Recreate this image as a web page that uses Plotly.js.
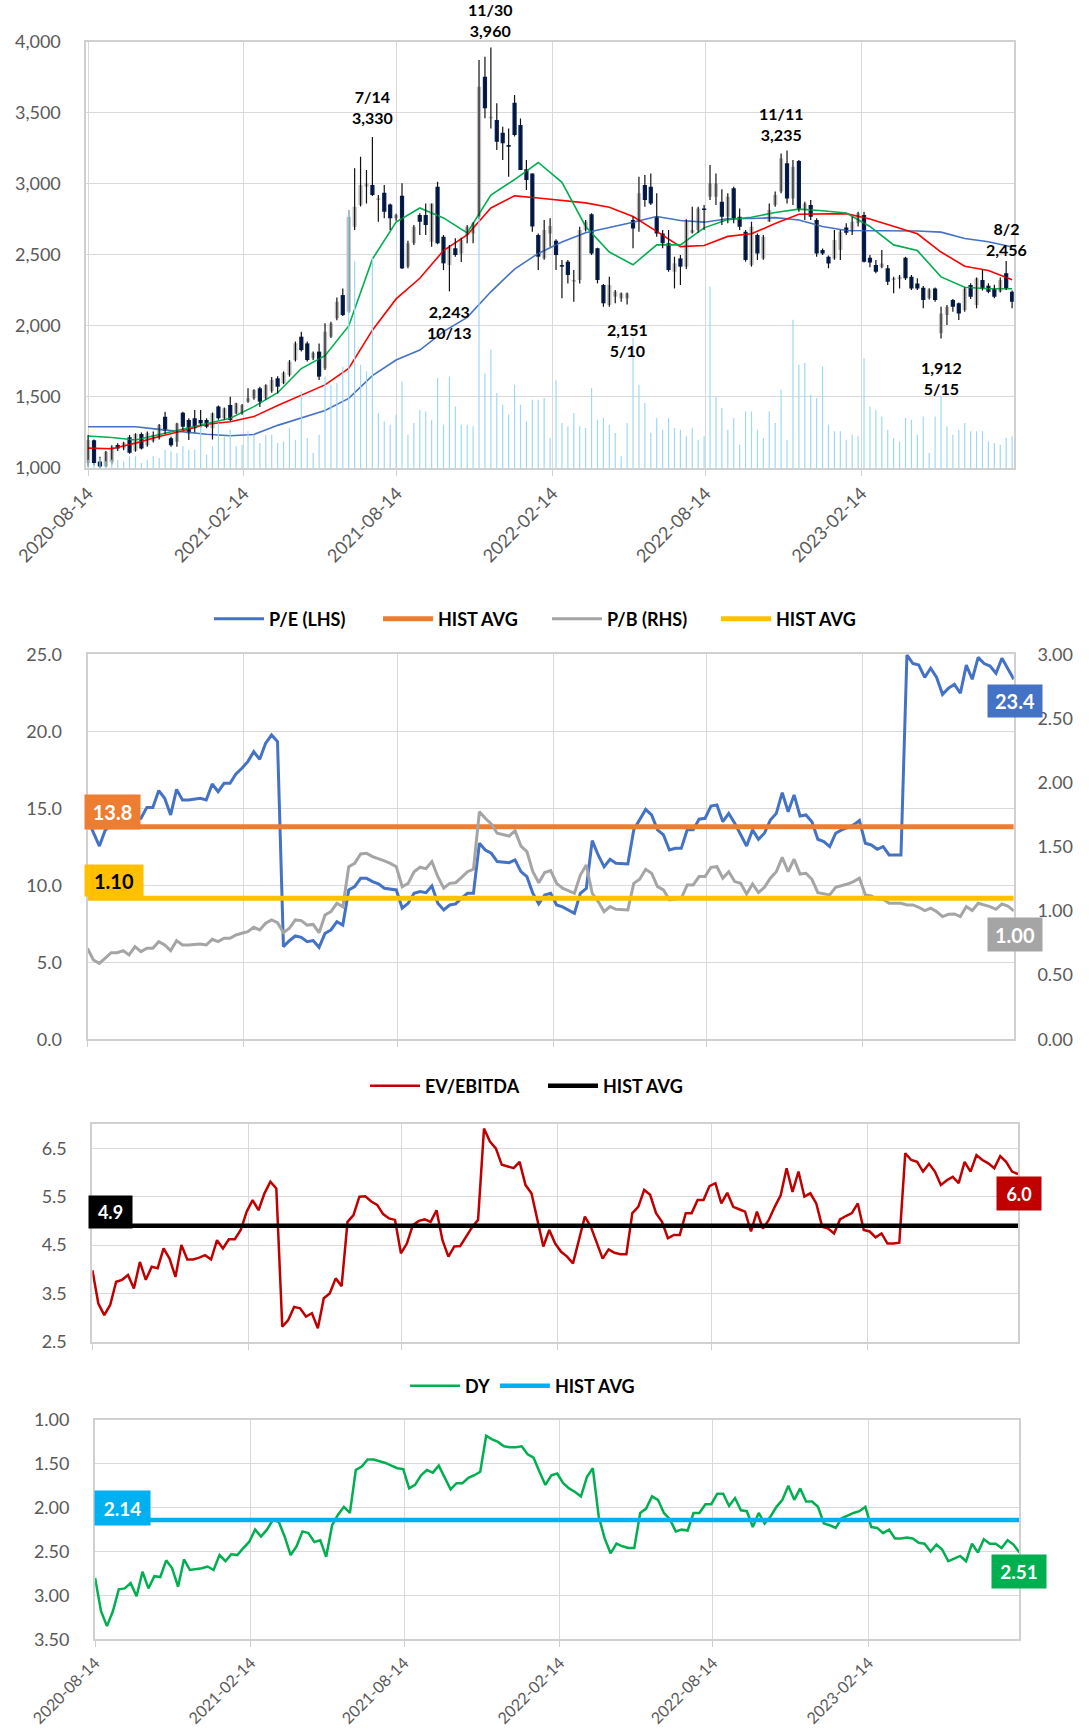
<!DOCTYPE html>
<html>
<head>
<meta charset="utf-8">
<script src="https://cdn.plot.ly/plotly-3.0.1.min.js"></script>
<style>
  html, body { margin: 0; padding: 0; background: #fff; }
  #chart { width: 1089px; height: 1736px; }
</style>
</head>
<body>
<div id="chart"></div>
<script>
// weekly bars, first week 2020-08-14
var dates = [];
var start = Date.UTC(2020, 7, 14);
for (var i = 0; i < 157; i++) {
  dates.push(new Date(start + i * 7 * 86400000).toISOString().slice(0, 10));
}

var open = [1035,1195,1045,1010,1040,1162,1138,1216,1122,1239,
  1160,1190,1209,1360,1209,1185,1389,1338,1350,1338,
  1338,1279,1432,1350,1443,1385,1385,1467,1490,1561,
  1490,1540,1631,1596,1654,1760,1924,1877,1772,1819,
  1701,1924,2053,2217,2100,2698,2851,2980,2991,2886,
  2937,2855,2757,2916,2417,2581,2780,2780,2593,2980,
  2628,2428,2546,2510,2640,2651,2768,3754,3461,3449,
  3360,3273,3571,3414,3102,3073,2640,2475,2651,2600,
  2428,2452,2311,2323,2675,2785,2546,2288,2147,2206,
  2194,2194,2745,2745,2991,2980,2768,2651,2581,2381,
  2475,2417,2656,2675,2827,2909,2909,2874,2768,2968,
  2768,2663,2428,2640,2475,2733,2851,2945,3144,2897,
  3160,2815,2851,2745,2534,2487,2475,2534,2693,2663,
  2722,2780,2480,2428,2412,2405,2323,2328,2480,2346,
  2299,2269,2194,2264,1948,2077,2182,2160,2112,2288,
  2147,2323,2283,2264,2241,2370,2241];
var high = [1232,1200,1080,1120,1160,1175,1185,1232,1245,1250,
  1256,1256,1310,1395,1220,1318,1396,1350,1408,1408,
  1350,1390,1440,1425,1502,1460,1450,1561,1555,1572,
  1590,1640,1645,1680,1760,1890,1959,1890,1820,1877,
  2018,2030,2200,2264,2815,3109,3191,3097,3330,2921,
  2991,2862,2790,3003,2600,2710,2792,2862,2862,3015,
  2640,2570,2616,2620,2710,2730,3871,3894,3960,3566,
  3402,3390,3625,3460,3167,3073,2650,2745,2757,2610,
  2464,2464,2393,2698,2745,2792,2550,2295,2346,2253,
  2235,2235,2768,3050,3062,3073,2933,2675,2675,2487,
  2499,2750,2839,2839,2851,3132,3073,2961,2933,2980,
  2827,2675,2733,2651,2640,2862,2945,3214,3235,3167,
  3167,2874,2886,2757,2545,2495,2675,2675,2722,2768,
  2804,2804,2499,2464,2534,2428,2346,2358,2487,2358,
  2335,2280,2265,2270,2135,2147,2190,2165,2270,2300,
  2340,2393,2300,2290,2340,2456,2250];
var low = [1010,1020,1000,1005,1025,1120,1125,1100,1115,1130,
  1150,1180,1200,1240,1150,1150,1265,1197,1250,1280,
  1280,1200,1340,1340,1330,1380,1375,1460,1480,1430,
  1480,1530,1525,1590,1643,1750,1819,1750,1760,1619,
  1690,1915,2040,2070,2090,2675,2840,2862,2915,2733,
  2757,2675,2740,2400,2405,2570,2640,2640,2557,2575,
  2393,2243,2487,2450,2581,2581,2750,3461,3390,3238,
  3167,3050,3332,3097,2956,2663,2393,2465,2557,2393,
  2194,2299,2170,2299,2665,2499,2299,2135,2135,2159,
  2170,2151,2546,2663,2839,2851,2628,2546,2381,2264,
  2288,2400,2650,2656,2675,2886,2851,2710,2722,2722,
  2675,2452,2417,2464,2465,2733,2839,2933,2862,2851,
  2804,2745,2745,2487,2499,2405,2465,2464,2640,2640,
  2700,2447,2412,2370,2405,2288,2229,2264,2323,2253,
  2253,2124,2185,2170,1912,2006,2100,2041,2100,2190,
  2124,2250,2230,2195,2235,2253,2124];
var close = [1197,1035,1010,1115,1150,1138,1178,1108,1239,1138,
  1244,1232,1303,1260,1160,1314,1291,1244,1279,1314,
  1291,1385,1350,1420,1338,1455,1443,1490,1549,1467,
  1584,1620,1572,1671,1748,1877,1830,1760,1811,1643,
  1959,2018,2170,2076,2768,2839,2991,3005,2921,2897,
  2804,2757,2780,2405,2581,2698,2733,2710,2862,2581,
  2440,2557,2499,2604,2698,2722,3683,3531,3472,3296,
  3285,3261,3343,3097,3027,2700,2487,2675,2703,2499,
  2417,2358,2323,2675,2733,2510,2323,2159,2288,2241,
  2229,2229,2686,2933,2886,2862,2651,2581,2393,2440,
  2417,2745,2675,2827,2815,3003,3003,2768,2909,2757,
  2698,2464,2698,2510,2628,2815,2921,3179,2897,3120,
  2815,2862,2768,2510,2510,2440,2604,2663,2656,2733,
  2792,2452,2447,2381,2440,2311,2335,2346,2335,2264,
  2264,2182,2257,2182,2088,2135,2135,2088,2264,2206,
  2335,2264,2241,2206,2323,2264,2170];
var volume = [25,15,30,20,25,25,20,35,35,15,25,35,30,55,50,45,65,55,55,125,
  40,65,135,95,115,65,70,110,100,75,100,100,
  75,80,120,85,230,90,45,100,275,250,255,305,775,620,310,290,630,165,140,130,
  160,260,100,135,175,170,145,270,130,275,185,130,
  130,125,755,285,355,225,190,160,250,190,140,205,205,210,90,265,135,125,165,125,
  120,240,145,150,130,105,35,135,390,250,195,105,
  150,115,150,120,115,95,120,85,95,545,215,180,115,150,70,170,170,115,90,170,
  135,235,85,445,310,315,220,210,305,130,110,
  110,85,100,95,330,185,175,155,115,90,80,150,145,100,155,45,155,215,125,100,
  115,135,110,110,110,80,75,70,90,95];

// moving averages, read every 4th week
var maShort = [1225,1215,1197,1235,1275,1315,1350,1432,1530,1700,
  1790,2000,2470,2730,2830,2760,2655,2920,3030,3150,
  3010,2700,2520,2430,2570,2570,2690,2748,2765,2798,
  2822,2810,2795,2700,2570,2530,2345,2272,2261,2261];
var maMid = [1140,1135,1175,1222,1262,1308,1325,1362,1440,1515,
  1585,1700,1970,2190,2335,2530,2640,2830,2915,2900,
  2885,2866,2835,2770,2665,2558,2566,2630,2648,2720,
  2786,2789,2790,2752,2700,2648,2520,2420,2390,2325];
var maLong = [1290,1290,1290,1272,1255,1238,1227,1236,1300,1352,
  1405,1490,1650,1760,1830,1960,2060,2240,2400,2510,
  2590,2655,2690,2730,2770,2742,2730,2754,2756,2762,
  2745,2700,2671,2671,2671,2668,2660,2615,2592,2555];

// weekly valuation ratios
var pe = [14.3,13.38,12.55,13.59,13.9,14.0,14.2,14.3,14.3,14.35,
  15.06,15.06,16.15,15.65,14.57,16.23,15.54,15.54,15.6,15.65,
  15.54,16.58,16.08,16.62,16.62,17.23,17.6,18.03,18.68,18.18,
  19.22,19.76,19.33,6.02,6.4,6.71,6.62,6.34,6.41,5.97,
  6.88,7.1,7.64,7.42,9.7,9.91,10.45,10.45,10.24,10.1,
  9.81,9.75,9.7,8.51,8.83,9.48,9.59,9.52,9.96,8.83,
  8.4,8.72,8.79,9.16,9.48,9.48,12.73,12.29,12.08,11.54,
  11.5,11.47,11.65,10.89,10.56,9.48,8.79,9.37,9.48,8.72,
  8.6,8.4,8.18,9.48,9.8,12.9,11.97,11.2,11.69,11.43,
  11.4,11.39,13.6,14.24,14.93,14.57,13.6,13.27,12.29,12.4,
  12.4,13.6,13.6,14.29,14.35,15.15,15.22,14.13,14.67,14.03,
  13.27,12.55,13.6,12.99,13.38,14.24,14.67,16.02,14.78,15.87,
  14.5,14.57,14.13,12.99,12.84,12.51,13.38,13.6,13.74,13.92,
  14.2,12.73,12.62,12.34,12.51,11.97,11.97,11.97,24.96,24.4,
  24.3,23.5,24.1,23.5,22.4,22.8,23.05,22.47,24.3,23.38,
  24.8,24.4,24.24,23.77,24.74,24.1,23.38];
var pb = [0.709,0.618,0.592,0.631,0.675,0.675,0.691,0.657,0.722,0.683,
  0.709,0.709,0.761,0.735,0.691,0.769,0.735,0.735,0.74,0.743,
  0.735,0.779,0.761,0.787,0.787,0.813,0.826,0.839,0.873,0.852,
  0.904,0.93,0.909,0.831,0.865,0.93,0.925,0.89,0.895,0.831,
  0.969,0.995,1.06,1.033,1.345,1.371,1.444,1.449,1.424,1.41,
  1.39,1.371,1.345,1.189,1.215,1.306,1.341,1.33,1.385,1.267,
  1.177,1.215,1.22,1.262,1.306,1.325,1.774,1.722,1.678,1.606,
  1.595,1.584,1.626,1.506,1.462,1.306,1.22,1.3,1.314,1.215,
  1.177,1.16,1.138,1.28,1.358,1.138,1.073,0.995,1.034,1.013,
  1.01,1.008,1.215,1.247,1.325,1.294,1.19,1.164,1.086,1.091,
  1.099,1.203,1.203,1.268,1.268,1.34,1.345,1.255,1.306,1.229,
  1.215,1.133,1.21,1.143,1.184,1.255,1.306,1.418,1.306,1.403,
  1.288,1.294,1.247,1.143,1.133,1.125,1.184,1.195,1.21,1.229,
  1.255,1.125,1.117,1.091,1.091,1.06,1.06,1.06,1.047,1.047,
  1.029,1.003,1.021,0.995,0.956,0.974,0.977,0.956,1.034,1.003,
  1.06,1.047,1.034,1.013,1.055,1.039,1.0];
var evEbitda = [3.98,3.29,3.05,3.26,3.74,3.78,3.88,3.6,4.15,3.78,
  4.05,4.02,4.43,4.22,3.84,4.5,4.2,4.2,4.24,4.29,
  4.2,4.6,4.43,4.62,4.62,4.81,5.19,5.43,5.22,5.57,
  5.81,5.67,2.81,2.95,3.22,3.19,3.02,3.09,2.78,3.4,
  3.5,3.81,3.65,4.98,5.12,5.5,5.51,5.4,5.33,5.14,
  5.05,5.02,4.33,4.53,4.91,5.0,5.03,4.98,5.22,4.6,
  4.26,4.47,4.48,4.67,4.87,5.02,6.91,6.64,6.5,6.16,
  6.13,6.09,6.22,5.74,5.57,5.02,4.47,4.81,4.53,4.36,
  4.26,4.12,4.6,5.09,4.88,4.53,4.22,4.41,4.34,4.31,
  4.31,5.16,5.29,5.64,5.54,5.16,4.98,4.64,4.71,4.71,
  5.16,5.16,5.43,5.43,5.72,5.78,5.36,5.58,5.29,5.24,
  5.19,4.78,5.19,4.84,5.02,5.29,5.53,6.09,5.6,6.02,
  5.5,5.57,5.36,4.88,4.84,4.74,5.03,5.1,5.16,5.36,
  4.81,4.78,4.66,4.74,4.53,4.53,4.55,6.4,6.26,6.22,
  6.02,6.18,6.02,5.74,5.84,5.91,5.78,6.22,6.02,6.36,
  6.26,6.19,6.09,6.34,6.22,6.02,5.97];
var dy = [2.80,3.18,3.35,3.18,2.93,2.92,2.86,3.01,2.73,2.92,
  2.78,2.79,2.6,2.69,2.9,2.59,2.71,2.7,2.69,2.67,
  2.71,2.54,2.61,2.53,2.54,2.46,2.39,2.25,2.33,2.25,
  2.14,2.16,2.33,2.54,2.44,2.27,2.29,2.39,2.37,2.56,
  2.2,2.08,1.99,2.06,1.57,1.53,1.45,1.45,1.47,1.49,
  1.52,1.55,1.56,1.78,1.74,1.63,1.57,1.6,1.52,1.65,
  1.79,1.72,1.72,1.66,1.63,1.59,1.18,1.22,1.25,1.3,
  1.31,1.31,1.30,1.39,1.43,1.59,1.74,1.63,1.61,1.72,
  1.78,1.82,1.87,1.65,1.55,2.1,2.35,2.52,2.41,2.44,
  2.46,2.46,2.06,2.01,1.87,1.91,2.06,2.13,2.27,2.25,
  2.26,2.06,2.06,1.96,1.96,1.84,1.84,1.98,1.89,2.03,
  2.04,2.22,2.06,2.18,2.1,1.99,1.91,1.75,1.91,1.78,
  1.93,1.93,1.99,2.18,2.2,2.23,2.12,2.09,2.06,2.04,
  1.99,2.22,2.23,2.29,2.25,2.35,2.35,2.34,2.35,2.4,
  2.41,2.5,2.42,2.48,2.61,2.58,2.55,2.61,2.41,2.51,
  2.36,2.41,2.41,2.46,2.37,2.42,2.51];

var peAvg = 13.8, pbAvg = 1.10, evAvg = 4.9, dyAvg = 2.14;

// price labels: [week index, price, date label, above?]
var peaks = [
  [48, 3330, "7/14", true],
  [68, 3960, "11/30", true],
  [61, 2243, "10/13", false],
  [91, 2151, "5/10", false],
  [117, 3235, "11/11", true],
  [144, 1912, "5/15", false],
  [155, 2456, "8/2", true]
];
var peakShift = [8, 5, -9, -14, 4, -18, 0];

var W = 1089, H = 1736;
var FONT = "Lato, 'Open Sans', sans-serif";
var DAY = 86400000;

var maDates = dates.filter(function (d, i) { return i % 4 === 0; });
var ends = [dates[0], dates[dates.length - 1]];

var bodyBase = [], bodyLen = [], bodyColor = [], wickX = [], wickY = [];
for (var i = 0; i < dates.length; i++) {
  bodyBase.push(Math.min(open[i], close[i]));
  bodyLen.push(Math.abs(close[i] - open[i]));
  bodyColor.push(close[i] >= open[i] ? "#bfbfbf" : "#002060");
  wickX.push(dates[i], dates[i], null);
  wickY.push(low[i], high[i], null);
}

function dx(a, b) { return [a / W, b / W]; }
function dyDom(top, bottom) { return [1 - bottom / H, 1 - top / H]; }

var tickFont = {family: FONT, size: 18, color: "#595959"};
var gridC = "#d9d9d9", lineC = "#d0d0d0";

function xAxis(domain, anchor, range, labels, fsize) {
  return {
    type: "date", domain: domain, anchor: anchor, range: range,
    tick0: "2020-08-14", dtick: "M6", tickformat: "%Y-%m-%d",
    tickangle: -45, showticklabels: labels,
    tickfont: {family: FONT, size: fsize || 18, color: "#595959"},
    showgrid: true, gridcolor: gridC, gridwidth: 1,
    showline: true, linecolor: lineC, linewidth: 2, mirror: true,
    ticks: "outside", ticklen: 6, tickcolor: lineC, zeroline: false
  };
}
function yAxis(domain, anchor, range, dtick, fmt, extra) {
  var a = {
    domain: domain, anchor: anchor, range: range, dtick: dtick,
    tickformat: fmt, tickfont: tickFont, showgrid: true, gridcolor: gridC,
    showline: true, linecolor: lineC, linewidth: 2, mirror: true,
    zeroline: false, ticks: "", ticklabelstandoff: 20, fixedrange: true
  };
  for (var k in extra) a[k] = extra[k];
  return a;
}

var traces = [
  {type: "bar", x: dates, y: volume, yaxis: "y2", xaxis: "x",
   marker: {color: "#9dd8f4", line: {width: 0}}, width: 1.4 * DAY,
   showlegend: false, hoverinfo: "skip"},
  {type: "scatter", mode: "lines", x: maDates, y: maLong, xaxis: "x", yaxis: "y",
   line: {color: "#4472c4", width: 1.6}, showlegend: false},
  {type: "scatter", mode: "lines", x: maDates, y: maMid, xaxis: "x", yaxis: "y",
   line: {color: "#ff0000", width: 1.6}, showlegend: false},
  {type: "scatter", mode: "lines", x: maDates, y: maShort, xaxis: "x", yaxis: "y",
   line: {color: "#00b050", width: 1.6}, showlegend: false},
  {type: "scatter", mode: "lines", x: wickX, y: wickY, xaxis: "x", yaxis: "y",
   line: {color: "#111111", width: 1.2}, connectgaps: false, showlegend: false},
  {type: "bar", x: dates, y: bodyLen, base: bodyBase, xaxis: "x", yaxis: "y",
   marker: {color: bodyColor, line: {width: 0}}, width: 5 * DAY, showlegend: false},

  {type: "scatter", mode: "lines", name: "P/E (LHS)", x: dates, y: pe,
   xaxis: "x2", yaxis: "y3", line: {color: "#4472c4", width: 3}, legend: "legend"},
  {type: "scatter", mode: "lines", name: "HIST AVG", x: ends, y: [peAvg, peAvg],
   xaxis: "x2", yaxis: "y3", line: {color: "#ed7d31", width: 5}, legend: "legend"},
  {type: "scatter", mode: "lines", name: "P/B (RHS)", x: dates, y: pb,
   xaxis: "x2", yaxis: "y4", line: {color: "#a5a5a5", width: 3}, legend: "legend"},
  {type: "scatter", mode: "lines", name: "HIST AVG", x: ends, y: [pbAvg, pbAvg],
   xaxis: "x2", yaxis: "y4", line: {color: "#ffc000", width: 5}, legend: "legend"},

  {type: "scatter", mode: "lines", name: "EV/EBITDA", x: dates, y: evEbitda,
   xaxis: "x3", yaxis: "y5", line: {color: "#c00000", width: 2.5}, legend: "legend2"},
  {type: "scatter", mode: "lines", name: "HIST AVG", x: ends, y: [evAvg, evAvg],
   xaxis: "x3", yaxis: "y5", line: {color: "#000000", width: 4.5}, legend: "legend2"},

  {type: "scatter", mode: "lines", name: "DY", x: dates, y: dy,
   xaxis: "x4", yaxis: "y6", line: {color: "#00b050", width: 2.5}, legend: "legend3"},
  {type: "scatter", mode: "lines", name: "HIST AVG", x: ends, y: [dyAvg, dyAvg],
   xaxis: "x4", yaxis: "y6", line: {color: "#00b0f0", width: 4.5}, legend: "legend3"}
];

var annotations = [];
peaks.forEach(function (p, k) {
  var price = p[1].toLocaleString("en-US");
  annotations.push({
    xref: "x", yref: "y", x: dates[p[0]], y: p[1], showarrow: false,
    text: p[3] ? p[2] + "<br>" + price : price + "<br>" + p[2],
    yanchor: p[3] ? "bottom" : "top", yshift: peakShift[k],
    font: {family: FONT, size: 16, color: "#000", weight: "bold"}
  });
});

function box(text, x0, y0, x1, y1, bg, fg, size) {
  annotations.push({
    xref: "paper", yref: "paper", x: (x0 + x1) / 2 / W, y: 1 - (y0 + y1) / 2 / H,
    xanchor: "center", yanchor: "middle", showarrow: false, text: text,
    bgcolor: bg, borderpad: 0, width: x1 - x0, height: y1 - y0,
    font: {family: FONT, size: size, color: fg, weight: "bold"}
  });
}
box(peAvg.toFixed(1), 85, 795, 140, 829, "#ed7d31", "#fff", 20);
box(pbAvg.toFixed(2), 85, 865, 143, 896, "#ffc000", "#000", 20);
box(pe[pe.length - 1].toFixed(1), 988, 685, 1042, 717, "#4472c4", "#fff", 20);
box(pb[pb.length - 1].toFixed(2), 988, 918, 1042, 951, "#a5a5a5", "#fff", 20);
box(evAvg.toFixed(1), 89, 1196, 132, 1228, "#000000", "#fff", 18);
box(evEbitda[evEbitda.length - 1].toFixed(1), 997, 1177, 1041, 1210, "#c00000", "#fff", 18);
box(dyAvg.toFixed(2), 95, 1491, 150, 1525, "#00b0f0", "#fff", 19);
box(dy[dy.length - 1].toFixed(2), 992, 1555, 1046, 1588, "#00b050", "#fff", 19);

var legendFont = {family: FONT, size: 18, color: "#000", weight: "bold"};
function legendAt(left, yc, entry) {
  var lg = {orientation: "h", x: left / W, xanchor: "left", y: 1 - yc / H, yanchor: "middle",
            font: legendFont, itemwidth: 50, bgcolor: "rgba(0,0,0,0)", traceorder: "normal"};
  if (entry) { lg.entrywidth = entry; lg.entrywidthmode = "pixels"; }
  return lg;
}

var layout = {
  width: W, height: H, autosize: false,
  margin: {l: 0, r: 0, t: 0, b: 0},
  paper_bgcolor: "#fff", plot_bgcolor: "#fff",
  barmode: "overlay", hovermode: false,
  font: {family: FONT},
  xaxis: xAxis(dx(86.4, 1013.8), "y", ["2020-08-12", "2023-08-13"], true, 18),
  yaxis: yAxis(dyDom(41.7, 468), "x", [1000, 4000], 500, ",d", {}),
  yaxis2: {overlaying: "y", anchor: "x", range: [0, 1280], visible: false, fixedrange: true},
  xaxis2: xAxis(dx(87.5, 1013.8), "y3", ends, false),
  yaxis3: yAxis(dyDom(654.3, 1039.3), "x2", [0, 25], 5, ".1f", {}),
  yaxis4: yAxis(dyDom(654.3, 1039.3), "x2", [0, 3], 0.5, ".2f",
                {overlaying: "y3", side: "right", showgrid: false, ticklabelstandoff: 18}),
  xaxis3: xAxis(dx(92.4, 1018), "y5", ends, false),
  yaxis5: yAxis(dyDom(1124.2, 1341.7), "x3", [2.5, 7.0], 1, ".1f", {tick0: 2.5}),
  xaxis4: xAxis(dx(95.1, 1019.4), "y6", ends, true, 16),
  yaxis6: yAxis(dyDom(1420, 1639.3), "x4", [3.5, 1.0], 0.5, ".2f", {}),
  legend: legendAt(209, 619, 104),
  legend2: legendAt(365, 1086, 113),
  legend3: legendAt(405, 1386, 0),
  annotations: annotations
};

Plotly.newPlot("chart", traces, layout, {displayModeBar: false, staticPlot: true});
</script>
</body>
</html>
